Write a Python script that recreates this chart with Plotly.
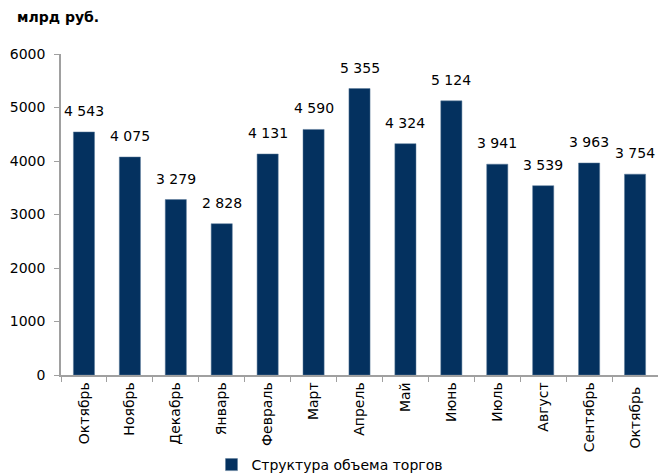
import plotly.graph_objects as go

months = ["Октябрь", "Ноябрь", "Декабрь", "Январь", "Февраль", "Март", "Апрель",
          "Май", "Июнь", "Июль", "Август", "Сентябрь", "Октябрь "]
values = [4543, 4075, 3279, 2828, 4131, 4590, 5355, 4324, 5124, 3941, 3539, 3963, 3754]
labels = [f"{v:,}".replace(",", " ") for v in values]
y_ticks = [0, 1000, 2000, 3000, 4000, 5000, 6000]

FONT = "DejaVu Sans"
FS = 14
W, H = 658, 476
L, R, T, B = 61, 0, 54, 101
PW, PH = W - L - R, H - T - B

fig = go.Figure()
fig.add_trace(go.Bar(
    x=months, y=values,
    marker=dict(color="#04315F", line=dict(color="#5A7A9A", width=0.5)),
    name="Структура объема торгов", showlegend=True, cliponaxis=False,
))
value_annotations = [
    dict(x=m, y=v, text=t, xref="x", yref="y", showarrow=False,
         yanchor="bottom", yshift=11, font=dict(family=FONT, size=FS, color="#000000"))
    for m, v, t in zip(months, values, labels)
]
fig.update_layout(
    width=W, height=H,
    margin=dict(l=L, r=R, t=T, b=B, autoexpand=False),
    plot_bgcolor="white", paper_bgcolor="white",
    bargap=0.54,
    font=dict(family=FONT, size=FS, color="#000000"),
    showlegend=True,
    legend=dict(orientation="h", x=0.5 - 30 / PW, xanchor="center",
                y=-(465 - 375) / PH, yanchor="middle",
                font=dict(family=FONT, size=FS), itemwidth=30),
    annotations=[dict(text="<b>млрд руб.</b>", showarrow=False,
                      xref="paper", yref="paper", x=(15 - L) / PW,
                      y=1 + (T - 17) / PH, xanchor="left", yanchor="middle",
                      font=dict(family=FONT, size=FS))] + value_annotations,
)
fig.update_xaxes(type="category", showline=True, linecolor="#A0A0A0", linewidth=1.5,
                 ticks="outside", tickson="boundaries", ticklen=5, tickcolor="#A0A0A0",
                 tickangle=-90, showgrid=False, automargin=False,
                 tickfont=dict(family=FONT, size=FS))
fig.update_yaxes(range=[0, 6000], tickvals=y_ticks, showline=True, linecolor="#A0A0A0",
                 linewidth=1.5, ticks="outside", ticklen=5, tickcolor="#A0A0A0",
                 showgrid=False, zeroline=False, automargin=False, ticklabelstandoff=6,
                 tickfont=dict(family=FONT, size=FS))
fig.write_html("out.html", config={"displayModeBar": False})

with open("out.html", encoding="utf-8") as f:
    html = f.read()
html = html.replace("<head>", "<head><style>html,body{margin:0;padding:0;overflow:hidden;}</style>", 1)
with open("out.html", "w", encoding="utf-8") as f:
    f.write(html)
